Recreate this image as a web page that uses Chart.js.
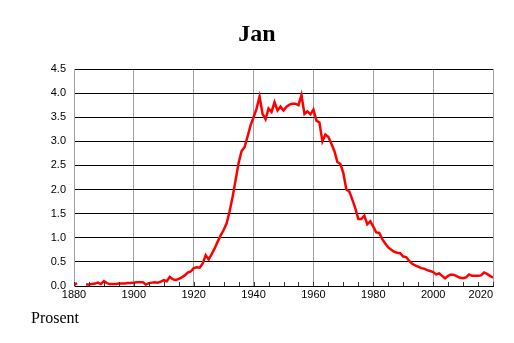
<!DOCTYPE html>
<html>
<head>
<meta charset="utf-8">
<script src="https://cdn.jsdelivr.net/npm/chart.js@4.4.1/dist/chart.umd.min.js"></script>
<style>
  html, body { margin: 0; padding: 0; background: #fff; }
  #wrap { position: relative; width: 514px; height: 343px; }
</style>
</head>
<body>
<div id="wrap"><canvas id="chart"></canvas></div>
<script>
// Share of newborn girls named "Jan" per year (percent)
const years = [
  1880, 1881, 1882, 1883, 1884, 1885, 1886, 1887, 1888, 1889,
  1890, 1891, 1892, 1893, 1894, 1895, 1896, 1897, 1898, 1899,
  1900, 1901, 1902, 1903, 1904, 1905, 1906, 1907, 1908, 1909,
  1910, 1911, 1912, 1913, 1914, 1915, 1916, 1917, 1918, 1919,
  1920, 1921, 1922, 1923, 1924, 1925, 1926, 1927, 1928, 1929,
  1930, 1931, 1932, 1933, 1934, 1935, 1936, 1937, 1938, 1939,
  1940, 1941, 1942, 1943, 1944, 1945, 1946, 1947, 1948, 1949,
  1950, 1951, 1952, 1953, 1954, 1955, 1956, 1957, 1958, 1959,
  1960, 1961, 1962, 1963, 1964, 1965, 1966, 1967, 1968, 1969,
  1970, 1971, 1972, 1973, 1974, 1975, 1976, 1977, 1978, 1979,
  1980, 1981, 1982, 1983, 1984, 1985, 1986, 1987, 1988, 1989,
  1990, 1991, 1992, 1993, 1994, 1995, 1996, 1997, 1998, 1999,
  2000, 2001, 2002, 2003, 2004, 2005, 2006, 2007, 2008, 2009,
  2010, 2011, 2012, 2013, 2014, 2015, 2016, 2017, 2018, 2019,
  2020
];

const percent = [
  0.02, 0.06, null, null, 0.03, 0.03, 0.04, 0.05, 0.07, 0.04,
  0.10, 0.06, 0.04, 0.04, 0.04, 0.05, 0.05, 0.05, 0.06, 0.06,
  0.07, 0.08, 0.08, 0.08, 0.03, 0.06, 0.07, 0.08, 0.07, 0.09,
  0.12, 0.10, 0.19, 0.14, 0.12, 0.15, 0.18, 0.22, 0.28, 0.30,
  0.37, 0.39, 0.38, 0.47, 0.64, 0.55, 0.66, 0.78, 0.92, 1.05,
  1.16, 1.30, 1.55, 1.85, 2.20, 2.55, 2.80, 2.88, 3.10, 3.33,
  3.50, 3.68, 3.93, 3.57, 3.46, 3.68, 3.61, 3.81, 3.64, 3.72,
  3.64, 3.72, 3.76, 3.78, 3.78, 3.75, 3.96, 3.57, 3.62, 3.56,
  3.66, 3.43, 3.39, 3.00, 3.14, 3.09, 2.95, 2.80, 2.57, 2.53,
  2.34, 2.00, 1.96, 1.79, 1.61, 1.39, 1.39, 1.46, 1.28, 1.34,
  1.23, 1.11, 1.10, 0.97, 0.88, 0.80, 0.75, 0.71, 0.69, 0.68,
  0.61, 0.60, 0.52, 0.46, 0.43, 0.40, 0.37, 0.36, 0.33, 0.31,
  0.29, 0.24, 0.26, 0.21, 0.16, 0.21, 0.24, 0.23, 0.20, 0.17,
  0.16, 0.18, 0.24, 0.21, 0.21, 0.21, 0.22, 0.28, 0.25, 0.21,
  0.17
];

const xTickLabels = [1880, 1900, 1920, 1940, 1960, 1980, 2000, 2020];
const chartTitle = 'Jan';
const unitLabel = 'Prosent';

// ── Texts, x labels and small inner ticks ─────────────────────────────────
const decorPlugin = {
  id: 'decor',
  afterDraw(chart) {
    const { ctx, chartArea, scales } = chart;
    const xs = scales.x;
    ctx.save();

    // minor ticks every 5 years, pointing up into the plot
    ctx.strokeStyle = '#333';
    ctx.lineWidth = 1;
    for (let v = xs.min; v <= xs.max; v += 5) {
      const px = Math.round(xs.getPixelForValue(v)) + 0.5;
      ctx.beginPath();
      ctx.moveTo(px, chartArea.bottom);
      ctx.lineTo(px, chartArea.bottom - 4);
      ctx.stroke();
    }

    // x labels (last one kept inside the frame)
    ctx.fillStyle = '#000';
    ctx.font = '11px "Liberation Sans", Arial, sans-serif';
    ctx.textBaseline = 'top';
    xTickLabels.forEach((v, i) => {
      ctx.textAlign = i === xTickLabels.length - 1 ? 'right' : 'center';
      ctx.fillText(String(v), xs.getPixelForValue(v), chartArea.bottom + 3);
    });

    // title
    ctx.textAlign = 'center';
    ctx.textBaseline = 'alphabetic';
    ctx.font = 'bold 24px "Liberation Serif", "Times New Roman", serif';
    ctx.fillText(chartTitle, chart.width / 2, 41);

    // unit
    ctx.textAlign = 'left';
    ctx.font = '16px "Liberation Serif", "Times New Roman", serif';
    ctx.fillText(unitLabel, 31, 323);

    ctx.restore();
  }
};

const ctx = document.getElementById('chart');
new Chart(ctx, {
  type: 'line',
  data: {
    datasets: [{
      data: years.map((y, i) => ({ x: y, y: percent[i] })),
      borderColor: '#ff0000', borderWidth: 2.5, pointRadius: 0,
      fill: false, tension: 0, spanGaps: false,
    }]
  },
  options: {
    responsive: true, maintainAspectRatio: false, animation: false,
    layout: { padding: { left: 0, right: 21, top: 69, bottom: 0 } },
    plugins: { legend: { display: false }, tooltip: { enabled: false }, title: { display: false } },
    scales: {
      x: {
        type: 'linear', min: 1880, max: 2020,
        ticks: { stepSize: 20, display: false },
        grid: { color: '#a0a0a0', lineWidth: 1, drawTicks: false },
        border: { color: '#000', width: 1 },
        afterFit: s => { s.height = 57; }
      },
      y: {
        min: 0, max: 4.5,
        ticks: { stepSize: 0.5, padding: 8, color: '#000',
                 font: { family: '"Liberation Sans", Arial, sans-serif', size: 11 },
                 callback: v => v.toFixed(1) },
        grid: { color: '#000', lineWidth: 1, drawTicks: false },
        border: { color: '#a0a0a0', width: 1 },
        afterFit: s => { s.width = 74; }
      }
    }
  },
  plugins: [decorPlugin]
});
</script>
</body>
</html>
